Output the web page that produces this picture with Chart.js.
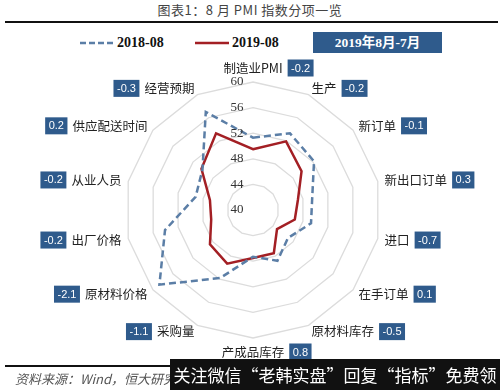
<!DOCTYPE html>
<html>
<head>
<meta charset="utf-8">
<script src="https://cdn.jsdelivr.net/npm/chart.js@4.4.1/dist/chart.umd.min.js"></script>
<style>
body { margin: 0; background: #fff; }
#wrap { position: relative; width: 500px; height: 390px; overflow: hidden; font-family: "Noto Sans CJK SC", sans-serif; }
#title { position: absolute; left: 0; top: 0; width: 500px; text-align: center; font-size: 13px; line-height: 20px; color: #444; letter-spacing: 0.5px; }
#rule { position: absolute; left: 5px; top: 21px; width: 493px; height: 2px; background: #111; }
#chart { position: absolute; left: 0; top: 0; }
.leg { position: absolute; top: 34px; height: 18px; font: bold 14px "Liberation Serif", serif; color: #111; line-height: 18px; }
.leg svg { position: absolute; left: 0; top: 7px; }
.leg span { position: absolute; white-space: nowrap; }
#periodBox { position: absolute; left: 313px; top: 32px; width: 129px; height: 21px; background: #2f5b8c; color: #fff;
  font: bold 13.5px "Liberation Serif", "Noto Sans CJK SC", serif; line-height: 21px; text-align: center; }
#srcRule { position: absolute; left: 5px; top: 365px; width: 170px; height: 1.5px; background: #111; }
#source { position: absolute; left: 15px; top: 369px; font-size: 13px; font-style: italic; color: #555; white-space: nowrap; }
#mark { position: absolute; left: 170px; top: 359px; width: 330px; height: 31px; background: #111; color: #fff;
  font-size: 17px; line-height: 31px; text-align: center; white-space: nowrap; }
</style>
</head>
<body>
<div id="wrap">
  <div id="title">图表1：8 月 PMI 指数分项一览</div>
  <div id="rule"></div>
  <div id="legend"></div>
  <div id="periodBox">2019年8月-7月</div>
  <canvas id="chart" width="500" height="390"></canvas>
  <div id="srcRule"></div>
  <div id="source">资料来源：Wind，恒大研究院</div>
  <div id="mark">关注微信“老韩实盘”回复“指标”免费领</div>
</div>
<script>
// 分项指标
var categories = ['制造业PMI', '生产', '新订单', '新出口订单', '进口', '在手订单', '原材料库存',
  '产成品库存', '采购量', '原材料价格', '出厂价格', '从业人员', '供应配送时间', '经营预期'];
var seriesNames = ['2018-08', '2019-08'];
var values2018 = [51.3, 53.3, 52.2, 49.5, 49.3, 47.0, 48.8, 47.3, 51.8, 58.7, 54.1, 49.2, 50.1, 57.0];
var values2019 = [49.5, 51.9, 49.7, 47.2, 46.7, 44.8, 47.5, 47.5, 49.3, 48.6, 46.7, 46.9, 50.3, 53.3];
// 2019年8月 - 7月
var changes = [-0.2, -0.2, -0.1, 0.3, -0.7, 0.1, -0.5, 0.8, -1.1, -2.1, -0.2, -0.2, 0.2, -0.3];
var tickMin = 40, tickMax = 60, tickStep = 4;

var boxColor = '#2f5b8c';

// labels with the blue change boxes, and the axis numbers
var labelPlugin = {
  id: 'pmiLabels',
  afterDraw: function (chart) {
    var s = chart.scales.r;
    var ctx = chart.ctx;
    ctx.save();

    ctx.font = '13px "Liberation Serif", serif';
    ctx.fillStyle = '#333';
    ctx.textAlign = 'center';
    ctx.textBaseline = 'middle';
    s.ticks.forEach(function (t) {
      var d = s.getDistanceFromCenterForValue(t.value);
      ctx.fillText(String(t.value), s.xCenter - 16, s.yCenter - d);
    });

    categories.forEach(function (name, i) {
      var p = s.getPointPosition(i, s.drawingArea + 7);
      var dx = p.x - s.xCenter;
      ctx.font = '12.5px "Noto Sans CJK SC", sans-serif';
      var w = ctx.measureText(name).width;
      var cy = p.y, textLeft;
      ctx.fillStyle = '#222';
      ctx.textBaseline = 'middle';
      if (Math.abs(dx) < 2) {
        cy = p.y < s.yCenter ? p.y - 7 : p.y + 7;
        textLeft = p.x - w / 2;
      } else if (dx > 0) {
        textLeft = p.x;
      } else {
        textLeft = p.x - w;
      }
      ctx.textAlign = 'left';
      ctx.fillText(name, textLeft, cy);

      var txt = changes[i].toFixed(1);
      ctx.font = '11px "Liberation Sans", sans-serif';
      var bw = ctx.measureText(txt).width + 7;
      var bh = 17;
      var bx = dx < -2 ? textLeft - 5 - bw : textLeft + w + 5;
      ctx.fillStyle = boxColor;
      ctx.fillRect(bx, cy - bh / 2, bw, bh);
      ctx.fillStyle = '#fff';
      ctx.textAlign = 'center';
      ctx.fillText(txt, bx + bw / 2, cy + 0.5);
    });
    ctx.restore();
  }
};

var ctx = document.getElementById('chart').getContext('2d');
var chart = new Chart(ctx, {
  type: 'radar',
  data: {
    labels: categories,
    datasets: [{
      label: seriesNames[0],
      data: values2018,
      borderColor: '#5b7ea6',
      borderWidth: 2.5,
      borderDash: [7, 4],
      fill: false,
      order: 1
    }, {
      label: seriesNames[1],
      data: values2019,
      borderColor: '#a31f24',
      borderWidth: 2.5,
      fill: false,
      order: 2
    }]
  },
  options: {
    responsive: false,
    animation: false,
    layout: { padding: { left: 125, right: 119, top: 82, bottom: 52 } },
    elements: { point: { radius: 0 }, line: { tension: 0 } },
    plugins: { legend: { display: false }, tooltip: { enabled: false } },
    scales: {
      r: {
        min: tickMin,
        max: tickMax,
        ticks: { stepSize: tickStep, display: false },
        pointLabels: { display: false },
        angleLines: { display: false },
        grid: { color: '#dcdcdc', lineWidth: 1.3 }
      }
    }
  },
  plugins: [labelPlugin]
});

// legend from the datasets
var legendPos = [80, 195];
var legend = document.getElementById('legend');
chart.data.datasets.forEach(function (ds, i) {
  var el = document.createElement('div');
  el.className = 'leg';
  el.style.left = legendPos[i] + 'px';
  var dash = ds.borderDash ? ' stroke-dasharray="6 3"' : '';
  el.innerHTML = '<svg width="34" height="4"><line x1="0" y1="2" x2="34" y2="2" stroke="' + ds.borderColor +
    '" stroke-width="2.5"' + dash + '/></svg><span style="left:37px">' + ds.label + '</span>';
  legend.appendChild(el);
});
</script>
</body>
</html>
